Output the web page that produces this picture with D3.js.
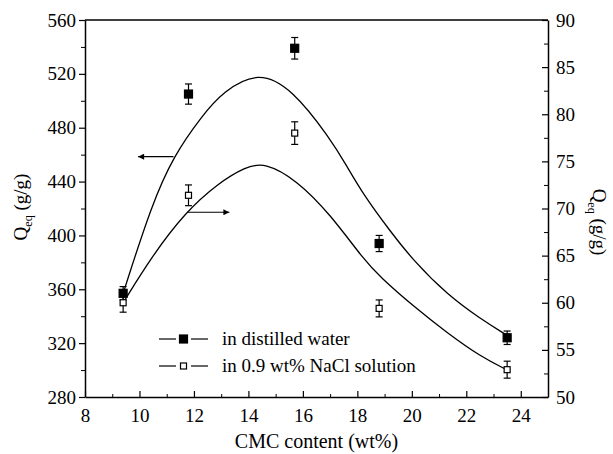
<!DOCTYPE html>
<html>
<head>
<meta charset="utf-8">
<script src="https://cdn.jsdelivr.net/npm/d3@7"></script>
<style>
  body { margin: 0; background: #fff; }
</style>
</head>
<body>
<div id="viz"></div>
<script>
// measured points
const cmc = [9.4, 11.8, 15.7, 18.8, 23.5];
const waterQ = [357, 505, 539, 394, 324];
const waterErr = [5, 7.5, 8, 6, 5];
const naclQ = [60.0, 71.4, 78.0, 59.4, 52.9];
const naclErr = [1.0, 1.1, 1.2, 0.9, 0.9];

// fitted curves
const waterFitX = [9.4, 10.45, 11.25, 12.3, 13.08, 14.35, 15.6, 17.0, 17.6, 18.23, 19.21, 20.07, 21.3, 22.52, 23.48];
const waterFitY = [357, 423, 459, 489, 507, 522, 509, 472, 452, 430, 403, 381, 356, 338, 326];
const naclFitX = [9.4, 10.45, 11.68, 12.9, 13.88, 14.6, 15.78, 17.0, 18.23, 18.85, 20.07, 21.3, 22.52, 23.48];
const naclFitY = [60, 64.9, 69.6, 72.7, 74.4, 74.9, 73.0, 69.4, 64.6, 62.7, 59.6, 56.8, 54.3, 52.9];

const legendLabels = ['in distilled water', 'in 0.9 wt% NaCl solution'];

const fontFamily = '"Liberation Serif", "Times New Roman", Times, "DejaVu Serif", serif';

const dimensions = {
  width: 613,
  height: 454,
  margin: { top: 20, right: 65, bottom: 57, left: 85 },
};
dimensions.boundedWidth = dimensions.width - dimensions.margin.left - dimensions.margin.right;
dimensions.boundedHeight = dimensions.height - dimensions.margin.top - dimensions.margin.bottom;

const svg = d3.select('#viz').append('svg')
  .attr('width', dimensions.width)
  .attr('height', dimensions.height)
  .style('font-family', fontFamily);

svg.append('defs').append('marker')
  .attr('id', 'arrow')
  .attr('viewBox', '0 0 10 10')
  .attr('refX', 10).attr('refY', 5)
  .attr('markerWidth', 12).attr('markerHeight', 6)
  .attr('markerUnits', 'userSpaceOnUse')
  .attr('orient', 'auto')
  .append('path').attr('d', 'M0,0L10,5L0,10Z').attr('fill', '#000');

const chart = svg.append('g')
  .attr('transform', `translate(${dimensions.margin.left},${dimensions.margin.top})`);

const xScale = d3.scaleLinear().domain([8, 25]).range([0, dimensions.boundedWidth]);
const yLeft = d3.scaleLinear().domain([280, 560]).range([dimensions.boundedHeight, 0]);
const yRight = d3.scaleLinear().domain([50, 90]).range([dimensions.boundedHeight, 0]);

// frame
chart.append('line')
  .attr('x1', 0).attr('x2', dimensions.boundedWidth)
  .attr('y1', 0).attr('y2', 0)
  .attr('stroke', '#000').attr('stroke-width', 1.3);

function styleAxis(g) {
  g.attr('font-family', null).attr('font-size', null);
  g.selectAll('.domain').attr('stroke-width', 1.5);
  g.selectAll('.tick line').attr('stroke-width', 1.2);
  g.selectAll('text').style('font-size', '19px').style('font-family', fontFamily);
}

// minor ticks first, then majors
const xMinor = chart.append('g')
  .attr('transform', `translate(0,${dimensions.boundedHeight})`)
  .call(d3.axisTop(xScale).tickValues(d3.range(9, 25, 2)).tickSize(3).tickFormat(''));
xMinor.select('.domain').remove();
const xAxis = chart.append('g')
  .attr('transform', `translate(0,${dimensions.boundedHeight})`)
  .call(d3.axisBottom(xScale).tickValues(d3.range(8, 25, 2)).tickSize(-6).tickPadding(12).tickSizeOuter(0));
styleAxis(xAxis);
xAxis.selectAll('text').attr('dy', '0.71em');

const yLMinor = chart.append('g')
  .call(d3.axisLeft(yLeft).tickValues(d3.range(300, 560, 40)).tickSize(4).tickFormat(''));
yLMinor.select('.domain').remove();
const yLAxis = chart.append('g')
  .call(d3.axisLeft(yLeft).tickValues(d3.range(280, 561, 40)).tickSize(6).tickPadding(3).tickSizeOuter(0));
styleAxis(yLAxis);

const yRMinor = chart.append('g')
  .attr('transform', `translate(${dimensions.boundedWidth},0)`)
  .call(d3.axisLeft(yRight).tickValues(d3.range(52.5, 90, 5)).tickSize(4).tickFormat(''));
yRMinor.select('.domain').remove();
const yRAxis = chart.append('g')
  .attr('transform', `translate(${dimensions.boundedWidth},0)`)
  .call(d3.axisRight(yRight).tickValues(d3.range(50, 91, 5)).tickSize(-6).tickPadding(8).tickSizeOuter(0));
styleAxis(yRAxis);

// axis titles
svg.append('text')
  .attr('x', dimensions.margin.left + dimensions.boundedWidth / 2)
  .attr('y', 448)
  .attr('text-anchor', 'middle')
  .style('font-size', '20px')
  .text('CMC content (wt%)');

function qTitle(sel) {
  sel.append('tspan').text('Q');
  sel.append('tspan').attr('dy', 5).style('font-size', '12px').text('eq');
  sel.append('tspan').attr('dy', -5).text(' (g/g)');
}
svg.append('text')
  .attr('transform', 'translate(27,207) rotate(-90)')
  .attr('text-anchor', 'middle')
  .style('font-size', '19px')
  .call(qTitle);
svg.append('text')
  .attr('transform', 'translate(593,222) rotate(90)')
  .attr('text-anchor', 'middle')
  .style('font-size', '19px')
  .call(qTitle);

// fitted curves (b-spline smooths out reading noise)
const waterLine = d3.line()
  .x((d, i) => xScale(waterFitX[i]))
  .y(d => yLeft(d))
  .curve(d3.curveBasis);
const naclLine = d3.line()
  .x((d, i) => xScale(naclFitX[i]))
  .y(d => yRight(d))
  .curve(d3.curveBasis);

chart.append('path').attr('d', waterLine(waterFitY))
  .attr('fill', 'none').attr('stroke', '#000').attr('stroke-width', 1.3);
chart.append('path').attr('d', naclLine(naclFitY))
  .attr('fill', 'none').attr('stroke', '#000').attr('stroke-width', 1.3);

// error bars + markers
function drawSeries(vals, errs, scale, filled, size) {
  const g = chart.append('g');
  vals.forEach((v, i) => {
    const x = xScale(cmc[i]);
    const y0 = scale(v - errs[i]);
    const y1 = scale(v + errs[i]);
    g.append('line').attr('x1', x).attr('x2', x).attr('y1', y0).attr('y2', y1)
      .attr('stroke', '#000').attr('stroke-width', 1.2);
    [y0, y1].forEach(yy => {
      g.append('line').attr('x1', x - 3.5).attr('x2', x + 3.5).attr('y1', yy).attr('y2', yy)
        .attr('stroke', '#000').attr('stroke-width', 1.2);
    });
    g.append('rect')
      .attr('x', x - size / 2).attr('y', scale(v) - size / 2)
      .attr('width', size).attr('height', size)
      .attr('fill', filled ? '#000' : '#fff')
      .attr('stroke', '#000').attr('stroke-width', 1.2);
  });
}
drawSeries(waterQ, waterErr, yLeft, true, 8);
drawSeries(naclQ, naclErr, yRight, false, 6);

// arrows pointing to the axis each curve belongs to
chart.append('line')
  .attr('x1', xScale(11.25)).attr('x2', xScale(9.95))
  .attr('y1', yLeft(458.5)).attr('y2', yLeft(458.5))
  .attr('stroke', '#000').attr('stroke-width', 1.2)
  .attr('marker-end', 'url(#arrow)');
chart.append('line')
  .attr('x1', xScale(11.75)).attr('x2', xScale(13.3))
  .attr('y1', yRight(69.6)).attr('y2', yRight(69.6))
  .attr('stroke', '#000').attr('stroke-width', 1.2)
  .attr('marker-end', 'url(#arrow)');

// legend
const legend = svg.append('g').attr('transform', 'translate(159,339)');
legendLabels.forEach((label, i) => {
  const row = legend.append('g').attr('transform', `translate(0,${i * 27})`);
  row.append('line').attr('x1', 0).attr('x2', 17).attr('y1', 0).attr('y2', 0)
    .attr('stroke', '#000').attr('stroke-width', 1.2);
  row.append('line').attr('x1', 32).attr('x2', 49).attr('y1', 0).attr('y2', 0)
    .attr('stroke', '#000').attr('stroke-width', 1.2);
  const s = i === 0 ? 8 : 6;
  row.append('rect').attr('x', 24.5 - s / 2).attr('y', -s / 2).attr('width', s).attr('height', s)
    .attr('fill', i === 0 ? '#000' : '#fff').attr('stroke', '#000').attr('stroke-width', 1.2);
  row.append('text').attr('x', 63).attr('y', 6)
    .style('font-size', '19px')
    .text(label);
});
</script>
</body>
</html>
